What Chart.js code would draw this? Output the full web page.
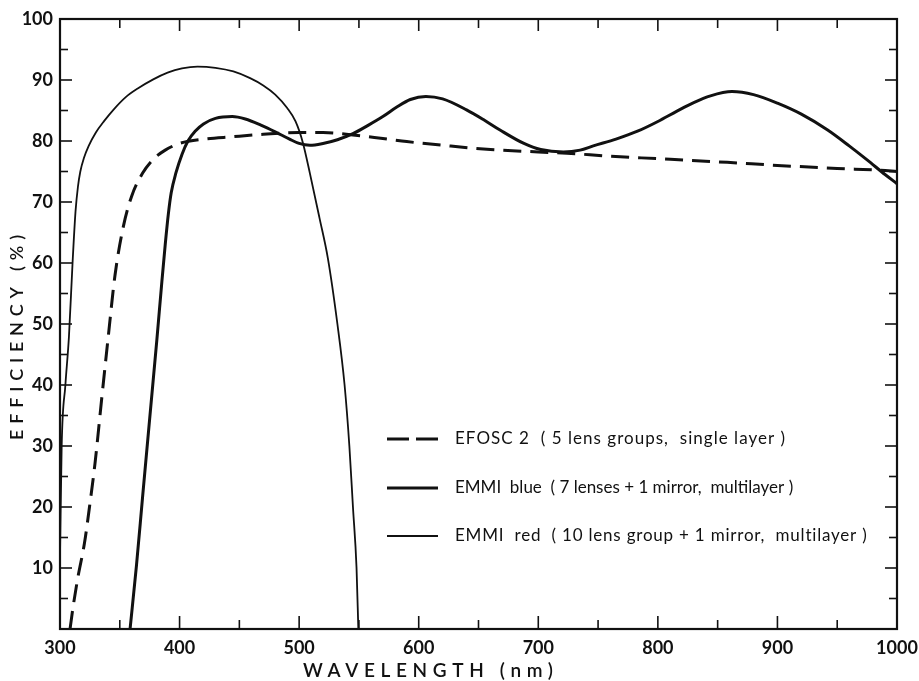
<!DOCTYPE html>
<html>
<head>
<meta charset="utf-8">
<script src="https://cdn.jsdelivr.net/npm/chart.js@4/dist/chart.umd.min.js"></script>
<style>
  html, body { margin: 0; padding: 0; background: #fff; }
  #wrap { width: 919px; height: 681px; }
</style>
</head>
<body>
<div id="wrap"><canvas id="c" width="919" height="681"></canvas></div>
<script>
// ---- Data ----
const efoscWavelength = [308.4, 311, 315, 320.4, 325, 329.3, 335, 340.4, 346, 353, 360, 369, 378, 388, 400, 420, 444, 470, 500, 520, 545, 570, 590, 620, 660, 700, 724, 760, 800, 858, 900, 950, 986, 1000];
const efoscEfficiency = [0, 3.7, 8.5, 14, 20.5, 27.2, 38, 48, 58, 66, 71, 74.7, 77, 78.5, 79.6, 80.3, 80.7, 81.1, 81.4, 81.4, 81, 80.4, 79.9, 79.3, 78.6, 78.2, 78, 77.5, 77.1, 76.5, 76, 75.5, 75.2, 75];

const blueWavelength = [358.6, 364, 369, 375, 381, 385, 388, 390.6, 393, 397, 402, 407, 413, 420, 430, 444, 455, 468, 480, 492, 500, 509, 520, 532, 545, 558, 570, 582, 593, 606, 620, 640, 655, 668, 688, 702, 721, 735, 746, 765, 783, 800, 816, 830, 844, 862, 880, 900, 920, 942, 960, 975, 990, 1000];
const blueEfficiency = [0, 10.5, 21.5, 34.5, 47.4, 56.5, 63, 68, 71.5, 74.8, 77.8, 80, 81.6, 82.8, 83.7, 84, 83.6, 82.6, 81.5, 80.3, 79.6, 79.3, 79.6, 80.2, 81.2, 82.6, 84, 85.6, 86.8, 87.3, 86.9, 85.1, 83.4, 81.8, 79.6, 78.6, 78.2, 78.5, 79.2, 80.3, 81.6, 83.2, 84.9, 86.3, 87.4, 88.1, 87.6, 86.2, 84.4, 81.8, 79.2, 76.9, 74.5, 73];

const redWavelength = [300, 301.4, 304.5, 307.5, 310.5, 313, 315, 317, 320, 324, 330, 337, 345, 355, 365, 378, 390, 402, 415, 430, 445, 459, 470, 480, 490, 497, 503, 509, 517, 524, 532, 538, 542, 545, 548, 549.5];
const redEfficiency = [12, 30, 40, 48, 60, 68.5, 72.5, 75, 77.2, 79.2, 81.4, 83.3, 85.2, 87.2, 88.6, 90.1, 91.2, 91.9, 92.2, 92, 91.4, 90.3, 89.1, 87.6, 85.4, 83.2, 79.8, 74.7, 67.4, 60.8, 50, 40, 30, 20, 10, 0];

const seriesLabels = [
  'EFOSC 2  ( 5 lens groups,  single layer )',
  'EMMI  blue  ( 7 lenses + 1 mirror,  multilayer )',
  'EMMI  red  ( 10 lens group + 1 mirror,  multilayer )'
];

const xMajorTicks = [300, 400, 500, 600, 700, 800, 900, 1000];
const xMinorTicks = [350, 450, 550, 650, 750, 850, 950];
const yMajorTicks = [10, 20, 30, 40, 50, 60, 70, 80, 90, 100];
const yMinorTicks = [5, 15, 25, 35, 45, 55, 65, 75, 85, 95];

const xTitle = 'WAVELENGTH (nm)';
const yTitle = 'EFFICIENCY (%)';

// ---- Build ----
const toPts = (xs, ys) => xs.map((x, i) => ({ x: x, y: ys[i] }));
const INK = '#111';
const FONT = 'Lato, "Open Sans", "DejaVu Sans", sans-serif';

const styles = [
  { borderWidth: 3, borderDash: [18, 9] },
  { borderWidth: 3, borderDash: [] },
  { borderWidth: 1.8, borderDash: [] }
];

function fitText(ctx, text, width) {
  ctx.letterSpacing = '0px';
  const w = ctx.measureText(text).width;
  const n = Math.max(1, text.length - 1);
  const sp = Math.max(0, (width - w) / n);
  ctx.letterSpacing = sp.toFixed(2) + 'px';
}

const framePlugin = {
  id: 'frame',
  afterDatasetsDraw(chart) {
    const { ctx, chartArea: a, scales } = chart;
    const xs = scales.x, ys = scales.y;
    ctx.save();
    ctx.strokeStyle = INK;
    ctx.setLineDash([]);
    ctx.lineWidth = 2.2;
    ctx.strokeRect(a.left, a.top, a.right - a.left, a.bottom - a.top);
    ctx.lineWidth = 1.6;
    const line = (x1, y1, x2, y2) => { ctx.beginPath(); ctx.moveTo(x1, y1); ctx.lineTo(x2, y2); ctx.stroke(); };
    xMajorTicks.forEach(v => { const p = xs.getPixelForValue(v); line(p, a.bottom, p, a.bottom - 13); line(p, a.top, p, a.top + 12); });
    xMinorTicks.forEach(v => { const p = xs.getPixelForValue(v); line(p, a.bottom, p, a.bottom - 9); line(p, a.top, p, a.top + 9); });
    yMajorTicks.forEach(v => { const p = ys.getPixelForValue(v); line(a.left, p, a.left + 12, p); line(a.right, p, a.right - 12, p); });
    yMinorTicks.forEach(v => { const p = ys.getPixelForValue(v); line(a.left, p, a.left + 8, p); line(a.right, p, a.right - 8, p); });

    // axis titles
    ctx.fillStyle = INK;
    ctx.font = '600 19px ' + FONT;
    ctx.textAlign = 'left';
    ctx.textBaseline = 'middle';
    fitText(ctx, xTitle, 250);
    ctx.fillText(xTitle, 303, 671);
    ctx.save();
    ctx.translate(17, 440);
    ctx.rotate(-Math.PI / 2);
    ctx.font = '600 18px ' + FONT;
    fitText(ctx, yTitle, 205);
    ctx.fillText(yTitle, 0, 0);
    ctx.restore();

    // legend
    const rows = [439, 488, 536];
    const ends = [785, 785, 867];
    chart.data.datasets.forEach((ds, i) => {
      const y = rows[i];
      ctx.letterSpacing = '0px';
      ctx.lineWidth = ds.borderWidth;
      ctx.setLineDash(i === 0 ? [22, 7] : []);
      line(387, y, 438, y);
      ctx.setLineDash([]);
      ctx.font = '17px ' + FONT;
      ctx.textAlign = 'left';
      ctx.textBaseline = 'middle';
      fitText(ctx, ds.label, ends[i] - 455);
      ctx.fillText(ds.label, 455, y);
    });
    ctx.letterSpacing = '0px';
    ctx.restore();
  }
};

new Chart(document.getElementById('c'), {
  type: 'line',
  data: {
    datasets: [
      { label: seriesLabels[0], data: toPts(efoscWavelength, efoscEfficiency) },
      { label: seriesLabels[1], data: toPts(blueWavelength, blueEfficiency) },
      { label: seriesLabels[2], data: toPts(redWavelength, redEfficiency) }
    ].map((d, i) => Object.assign(d, styles[i], {
      borderColor: INK, backgroundColor: INK, pointRadius: 0, fill: false,
      cubicInterpolationMode: 'monotone'
    }))
  },
  options: {
    responsive: false,
    animation: false,
    layout: { padding: { top: 19, right: 22, left: 0, bottom: 0 } },
    plugins: { legend: { display: false }, tooltip: { enabled: false } },
    scales: {
      x: {
        type: 'linear', min: 300, max: 1000,
        afterBuildTicks: s => { s.ticks = xMajorTicks.map(v => ({ value: v })); },
        afterFit: s => { s.height = 52; s.paddingLeft = 0; s.paddingRight = 0; },
        grid: { display: false, drawTicks: false },
        border: { display: false },
        ticks: { color: INK, padding: 8, maxRotation: 0, autoSkip: false, callback: v => String(v), font: { family: FONT, size: 18, weight: 'bold' } }
      },
      y: {
        type: 'linear', min: 0, max: 100,
        afterBuildTicks: s => { s.ticks = yMajorTicks.map(v => ({ value: v })); },
        afterFit: s => { s.width = 60; s.paddingTop = 0; s.paddingBottom = 0; },
        grid: { display: false, drawTicks: false },
        border: { display: false },
        ticks: { color: INK, padding: 7, autoSkip: false, callback: v => String(v), font: { family: FONT, size: 18, weight: 'bold' } }
      }
    }
  },
  plugins: [framePlugin]
});
</script>
</body>
</html>
